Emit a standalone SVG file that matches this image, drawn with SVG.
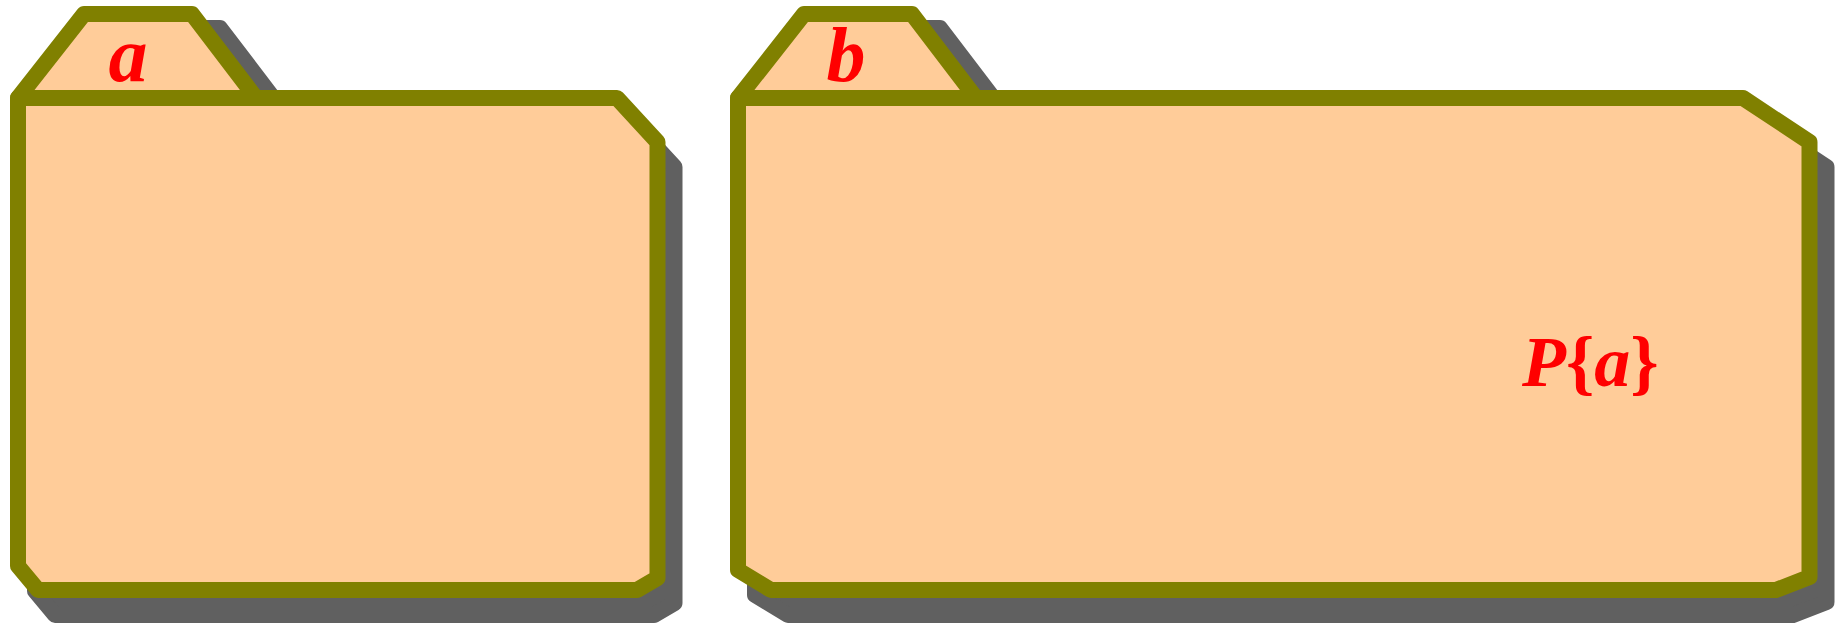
<svg xmlns="http://www.w3.org/2000/svg" width="1839" height="625" viewBox="0 0 1839 625">
<style>
.sh{fill:#606060;stroke:#606060;stroke-width:16;stroke-linejoin:round}
.fd{fill:#FFCC99;stroke:#808000;stroke-width:16;stroke-linejoin:round}
.lbl{font-family:"Liberation Serif","Times New Roman",serif;font-weight:bold;font-style:italic;fill:#FF0000}
</style>
<rect width="1839" height="625" fill="#FFFFFF"/>
<g id="package-a">
<polygon class="sh" points="46,112 112,28 220,28 284,112"/>
<polygon class="sh" points="35,123 634,123 674.5,167 674.5,603 654,615 55,615 35,591"/>
<polygon class="fd" points="18,98 84,14 192,14 256,98"/>
<polygon class="fd" points="18,98 617,98 657.5,142 657.5,578 637,590 38,590 18,566"/>
<text class="lbl" x="128" y="81" font-size="78" text-anchor="middle">a</text>
</g>
<g id="package-b">
<polygon class="sh" points="766,112 832,28 940,28 1004,112"/>
<polygon class="sh" points="755,123 1760,123 1826.5,167 1826.5,602 1793,615 788,615 755,595"/>
<polygon class="fd" points="738,98 804,14 912,14 976,98"/>
<polygon class="fd" points="738,98 1743,98 1809.5,142 1809.5,577 1776,590 771,590 738,570"/>
<text class="lbl" x="846" y="81" font-size="78" text-anchor="middle">b</text>
<text class="lbl" x="1522" y="386" font-size="72">P<tspan font-style="normal">{</tspan>a<tspan font-style="normal">}</tspan></text>
</g>
<g id="connectors"></g>
</svg>
